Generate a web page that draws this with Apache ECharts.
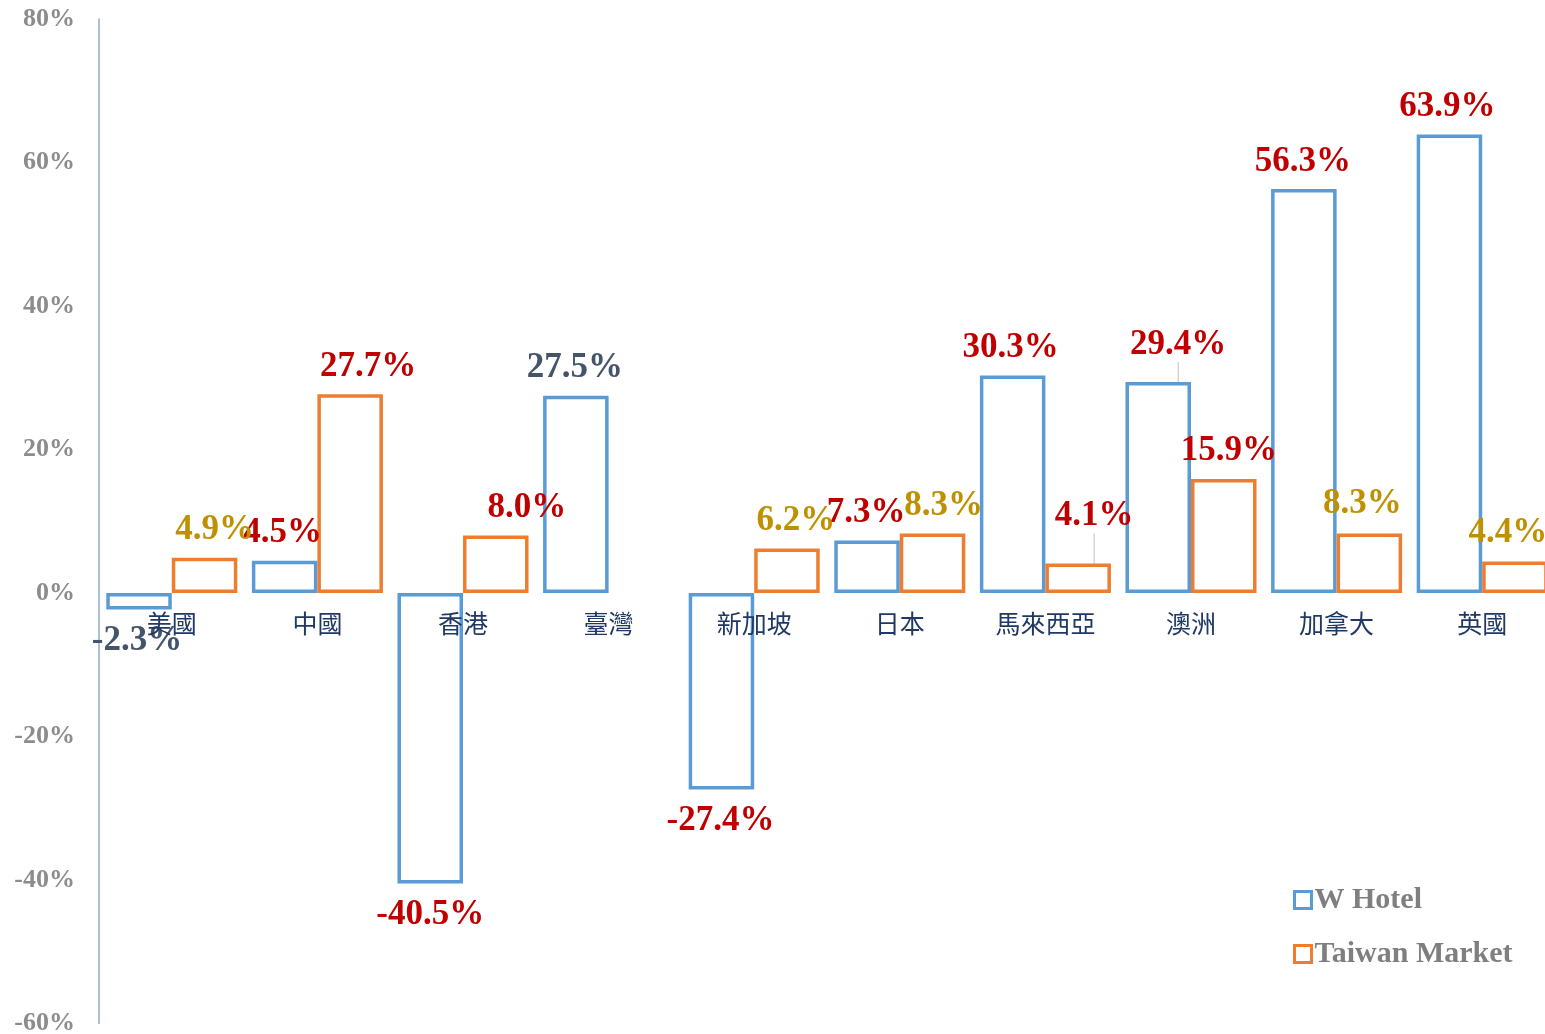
<!DOCTYPE html>
<html>
<head>
<meta charset="utf-8">
<script src="https://cdn.jsdelivr.net/npm/echarts@6/dist/echarts.min.js"></script>
<style>html,body{margin:0;padding:0;background:#fff}#c{width:1545px;height:1034px}</style>
</head>
<body>
<div id="c"></div>
<script>
// ---- data ----
const categories = ['美國','中國','香港','臺灣','新加坡','日本','馬來西亞','澳洲','加拿大','英國'];
const wHotel = [-2.3, 4.5, -40.5, 27.5, -27.4, 7.3, 30.3, 29.4, 56.3, 63.9];
const taiwanMarket = [4.9, 27.7, 8.0, null, 6.2, 8.3, 4.1, 15.9, 8.3, 4.4];
const yTicks = [-60, -40, -20, 0, 20, 40, 60, 80];
const seriesNames = ['W Hotel', 'Taiwan Market'];

// ---- label styles (colors / offsets) ----
const RED = '#C00000', GOLD = '#BF9000', NAVY = '#44546A';
const wLabelColors = [NAVY, RED, RED, NAVY, RED, RED, RED, RED, RED, RED];
const tLabelColors = [GOLD, RED, RED, RED, GOLD, GOLD, RED, RED, GOLD, GOLD];
const wOffsets = [[-2,0],[-2,0],[0,0],[-1,0],[-1,0],[-1,0],[-2,0],[20,-10],[-1,0],[-2,0]];
const tOffsets = [[10,0],[18,0],[31,0],[0,0],[9,0],[11,0],[16,-20],[5,0],[-7,-2],[-7,-1]];
const wLeader = [false,false,false,false,false,false,false,true,false,false];
const tLeader = [false,false,false,false,false,false,true,false,false,false];

const SERIF = '"Times New Roman","Liberation Serif","DejaVu Serif",serif';
const CJK = '"PMingLiU","Noto Sans CJK TC","Noto Sans CJK SC",sans-serif';

function makeData(vals, colors, leaders) {
  return vals.map((v, i) => {
    if (v === null) return null;
    return {
      value: v,
      label: {
        position: v < 0 ? 'bottom' : 'top',
        distance: v < 0 ? 14 : 10,
        color: colors[i]
      },
      labelLine: { show: leaders[i] }
    };
  });
}

const chart = echarts.init(document.getElementById('c'), null, { renderer: 'canvas' });
const baseLabel = {
  show: true,
  fontFamily: SERIF,
  fontWeight: 'bold',
  fontSize: 35,
  formatter: p => p.value.toFixed(1) + '%'
};
chart.setOption({
  backgroundColor: '#ffffff',
  animation: false,
  grid: { left: 99, right: -10, top: 19, bottom: 10.5, containLabel: false, outerBoundsMode: 'none' },
  legend: {
    orient: 'vertical',
    left: 1288,
    top: 880,
    itemWidth: 17,
    itemHeight: 17,
    itemGap: 24,
    icon: 'rect',
    data: seriesNames,
    itemStyle: { borderWidth: 3 },
    textStyle: { fontFamily: SERIF, fontWeight: 'bold', fontSize: 30, color: '#7F7F7F', padding: [0,0,0,-2] }
  },
  xAxis: {
    type: 'category',
    data: categories,
    position: 'bottom',
    offset: -430,
    z: 10,
    axisLine: { show: false, onZero: false },
    axisTick: { show: false },
    axisLabel: { fontFamily: CJK, fontSize: 25, color: '#1F3864', margin: 17 },
    splitLine: { show: false }
  },
  yAxis: {
    type: 'value',
    min: yTicks[0],
    max: yTicks[yTicks.length - 1],
    interval: 20,
    axisLine: { show: true, lineStyle: { color: '#8FAAC8', width: 1.5 } },
    axisTick: { show: false },
    splitLine: { show: false },
    axisLabel: {
      margin: 24,
      fontFamily: SERIF, fontWeight: 'bold', fontSize: 26, color: '#8C8C8C',
      formatter: v => v + '%'
    }
  },
  series: [
    {
      name: seriesNames[0],
      type: 'bar',
      barGap: '0%',
      barCategoryGap: '10%',
      itemStyle: { color: '#ffffff', borderColor: '#5B9BD5', borderWidth: 3.5 },
      label: baseLabel,
      labelLine: { show: false, lineStyle: { color: '#BFBFBF', width: 1 } },
      labelLayout: p => ({ dx: wOffsets[p.dataIndex][0], dy: wOffsets[p.dataIndex][1] }),
      data: makeData(wHotel, wLabelColors, wLeader)
    },
    {
      name: seriesNames[1],
      type: 'bar',
      barGap: '0%',
      barCategoryGap: '10%',
      itemStyle: { color: '#ffffff', borderColor: '#ED7D31', borderWidth: 3.5 },
      label: baseLabel,
      labelLine: { show: false, lineStyle: { color: '#BFBFBF', width: 1 } },
      labelLayout: p => ({ dx: tOffsets[p.dataIndex][0], dy: tOffsets[p.dataIndex][1] }),
      data: makeData(taiwanMarket, tLabelColors, tLeader)
    }
  ]
});
</script>
</body>
</html>
